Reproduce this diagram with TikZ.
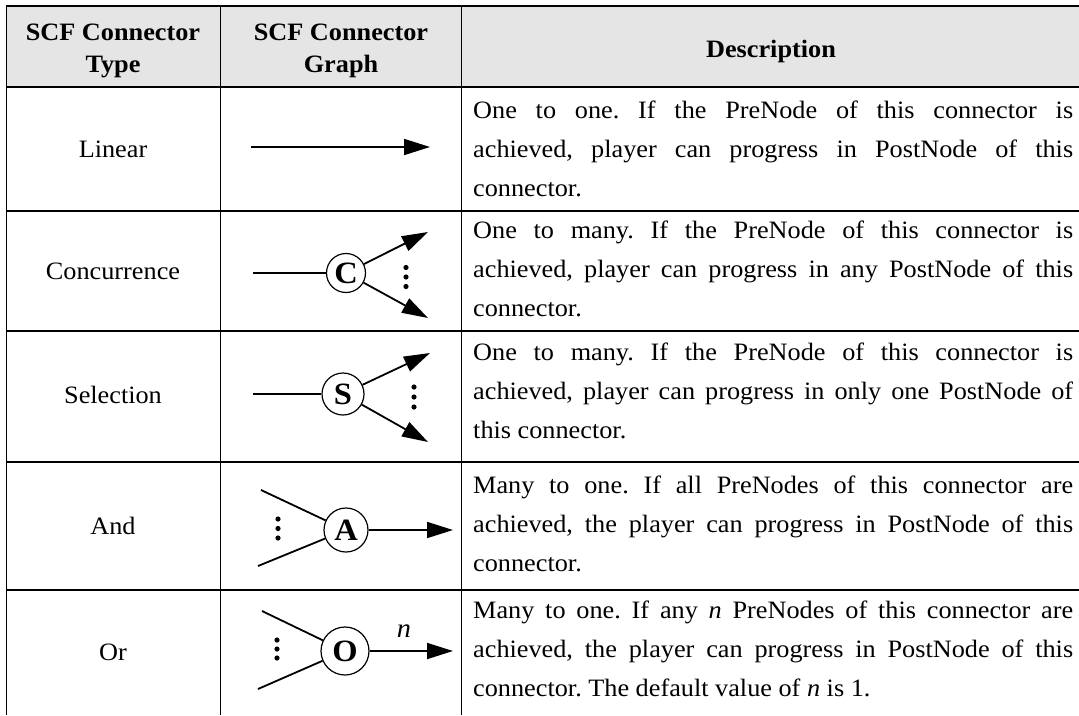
\documentclass[tikz,border=0pt]{standalone}
\usepackage{fontspec}
\setmainfont{Liberation Serif}[FakeStretch=1.05]
\usetikzlibrary{arrows.meta}

\definecolor{headfill}{RGB}{229,229,229}

\tikzset{
  rule thick/.style={line width=2.2pt},
  rule thin/.style={line width=1.3pt},
  rule col/.style={line width=1.4pt},
  headtext/.style={font=\fontsize{25}{31}\selectfont\bfseries, inner sep=0pt, anchor=base},
  typetext/.style={font=\fontsize{25}{31}\selectfont, inner sep=0pt, anchor=base},
  descline/.style={font=\fontsize{25}{39}\selectfont, inner sep=0pt, anchor=base west},
  conn/.style={line width=1.8pt},
  arr/.style={conn, -{Triangle[length=26pt,width=16pt]}},
  gate/.style={circle, draw, line width=1.2pt, inner sep=0pt,
               font=\fontsize{31}{31}\selectfont\bfseries},
  dotmark/.style={circle, fill, inner sep=0pt, minimum size=5.2pt},
}

\newcommand{\jline}[1]{\makebox[600pt][s]{#1}}

\begin{document}
\frenchspacing
\begin{tikzpicture}[x=1pt,y=-1pt]
  \useasboundingbox (0,0) rectangle (1079,715);

  % ---------- table frame ----------
  \fill[headfill] (6,6) rectangle (1079,87);
  \draw[rule thin]  (6,6)   -- (1079,6);
  \draw[rule thick] (6,87)  -- (1079,87);
  \draw[rule thick] (6,211) -- (1079,211);
  \draw[rule thin]  (6,331) -- (1079,331);
  \draw[rule thin]  (6,462) -- (1079,462);
  \draw[rule thick] (6,590) -- (1079,590);
  \draw[rule col] (6.5,6)   -- (6.5,715);
  \draw[rule col] (220.5,6) -- (220.5,715);
  \draw[rule col] (461.5,6) -- (461.5,715);

  % ---------- header ----------
  \node[headtext] (h1a) at (113,40) {SCF Connector};
  \node[headtext] (h1b) at (113,72) {Type};
  \node[headtext] (h2a) at (341,40) {SCF Connector};
  \node[headtext] (h2b) at (341,72) {Graph};
  \node[headtext] (h3)  at (771,57) {Description};

  % ---------- connector types ----------
  \node[typetext] (t1) at (113,157) {Linear};
  \node[typetext] (t2) at (113,279) {Concurrence};
  \node[typetext] (t3) at (113,403) {Selection};
  \node[typetext] (t4) at (113,534) {And};
  \node[typetext] (t5) at (113,660) {Or};

  % ---------- descriptions ----------
  \node[descline] (d1a) at (473,118) {\jline{One to one. If the PreNode of this connector is}};
  \node[descline] (d1b) at (473,157) {\jline{achieved, player can progress in PostNode of this}};
  \node[descline] (d1c) at (473,196) {connector.};

  \node[descline] (d2a) at (473,238) {\jline{One to many. If the PreNode of this connector is}};
  \node[descline] (d2b) at (473,277) {\jline{achieved, player can progress in any PostNode of this}};
  \node[descline] (d2c) at (473,316) {connector.};

  \node[descline] (d3a) at (473,360) {\jline{One to many. If the PreNode of this connector is}};
  \node[descline] (d3b) at (473,399) {\jline{achieved, player can progress in only one PostNode of}};
  \node[descline] (d3c) at (473,438) {this connector.};

  \node[descline] (d4a) at (473,493) {\jline{Many to one. If all PreNodes of this connector are}};
  \node[descline] (d4b) at (473,532) {\jline{achieved, the player can progress in PostNode of this}};
  \node[descline] (d4c) at (473,571) {connector.};

  \node[descline] (d5a) at (473,618) {\jline{Many to one. If any \textit{n} PreNodes of this connector are}};
  \node[descline] (d5b) at (473,657) {\jline{achieved, the player can progress in PostNode of this}};
  \node[descline] (d5c) at (473,696) {connector. The default value of \textit{n} is 1.};

  % ---------- Linear ----------
  \coordinate (lin-s) at (251,147);
  \coordinate (lin-e) at (430,147);
  \draw[arr] (lin-s) -- (lin-e);

  % ---------- Concurrence ----------
  \node[gate, minimum size=39pt] (C) at (346,273) {C};
  \coordinate (c-in) at (253,273);
  \coordinate (c-up) at (428,232);
  \coordinate (c-dn) at (428,318);
  \draw[conn] (c-in) -- (C);
  \draw[arr] (C) -- (c-up);
  \draw[arr] (C) -- (c-dn);
  \node[dotmark] (cd1) at (406,267.5) {};
  \node[dotmark] (cd2) at (406,277) {};
  \node[dotmark] (cd3) at (406,286.5) {};

  % ---------- Selection ----------
  \node[gate, minimum size=42pt] (S) at (343,394) {S};
  \coordinate (s-in) at (253,394);
  \coordinate (s-up) at (430,353);
  \coordinate (s-dn) at (428,442);
  \draw[conn] (s-in) -- (S);
  \draw[arr] (S) -- (s-up);
  \draw[arr] (S) -- (s-dn);
  \node[dotmark] (sd1) at (414,387) {};
  \node[dotmark] (sd2) at (414,397) {};
  \node[dotmark] (sd3) at (414,407) {};

  % ---------- And ----------
  \node[gate, minimum size=44pt] (A) at (346,530) {A};
  \coordinate (a-in1) at (261,490);
  \coordinate (a-in2) at (258,566);
  \coordinate (a-out) at (453,530);
  \draw[conn] (a-in1) -- (A);
  \draw[conn] (a-in2) -- (A);
  \draw[arr] (A) -- (a-out);
  \node[dotmark] (ad1) at (278,519) {};
  \node[dotmark] (ad2) at (278,528.5) {};
  \node[dotmark] (ad3) at (278,538) {};

  % ---------- Or ----------
  \node[gate, minimum size=48pt] (O) at (345,651) {O};
  \coordinate (o-in1) at (262,611);
  \coordinate (o-in2) at (258,689);
  \coordinate (o-out) at (453,651);
  \draw[conn] (o-in1) -- (O);
  \draw[conn] (o-in2) -- (O);
  \draw[arr] (O) -- (o-out);
  \node[font=\fontsize{27}{27}\selectfont\itshape, inner sep=0pt] (o-n) at (404,631) {n};
  \node[dotmark] (od1) at (277,640) {};
  \node[dotmark] (od2) at (277,649) {};
  \node[dotmark] (od3) at (277,658) {};
\end{tikzpicture}
\end{document}
